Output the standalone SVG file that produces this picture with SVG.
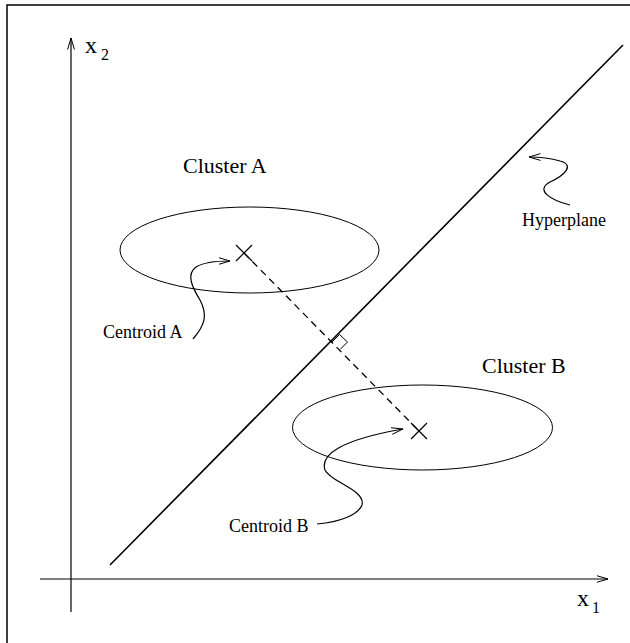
<svg xmlns="http://www.w3.org/2000/svg" width="630" height="643" viewBox="0 0 630 643">
<style>
.ln{fill:none;stroke:#000;stroke-width:1.2}
.ell{fill:none;stroke:#000;stroke-width:1}
.big{font-family:"Liberation Serif","Times New Roman",serif;font-size:22px;fill:#000}
.sm{font-family:"Liberation Serif","Times New Roman",serif;font-size:18px;fill:#000}
.ax{font-family:"Liberation Serif","Times New Roman",serif;font-size:24px;fill:#000}
.sub{font-family:"Liberation Serif","Times New Roman",serif;font-size:16px;fill:#000}
</style>
<defs>
<marker id="open" viewBox="0 0 12 8" refX="11.5" refY="4" markerWidth="12" markerHeight="8" markerUnits="userSpaceOnUse" orient="auto">
<path d="M0,0.6 L11.5,4 L0,7.4" fill="none" stroke="#000" stroke-width="1"/>
</marker>
</defs>
<rect width="630" height="643" fill="#fff"/>
<path d="M7,643 V5 H630" fill="none" stroke="#000" stroke-width="1.5"/>
<g id="axes">
<line class="ln" x1="71" y1="612" x2="71" y2="38" marker-end="url(#open)"/>
<line class="ln" x1="40" y1="579" x2="608" y2="579" marker-end="url(#open)"/>
<text class="ax" x="85" y="53">x</text><text class="sub" x="101" y="60">2</text>
<text class="ax" x="577" y="606">x</text><text class="sub" x="592" y="613">1</text>
</g>
<g id="hyperplane">
<line x1="110" y1="565" x2="623" y2="45" stroke="#000" stroke-width="1.6"/>
<text class="sm" x="522" y="226">Hyperplane</text>
</g>
<g id="clusterA">
<ellipse class="ell" cx="249.5" cy="250" rx="129.5" ry="43"/>
<path class="ln" d="M236,245 L252,261 M236,261 L252,245"/>
<text class="big" x="183" y="173">Cluster A</text>
<text class="sm" x="103" y="338">Centroid A</text>
</g>
<g id="clusterB">
<ellipse class="ell" cx="422.5" cy="427.5" rx="130" ry="42.5"/>
<path class="ln" d="M411,423 L427,439 M411,439 L427,423"/>
<text class="big" x="482" y="373">Cluster B</text>
<text class="sm" x="229" y="532">Centroid B</text>
</g>
<g id="connectors">
<line x1="244" y1="253" x2="419" y2="431" stroke="#000" stroke-width="1.3" stroke-dasharray="7,5"/>
<path d="M332,342 L339.5,334.5 L347.5,342 L340,349.5" fill="none" stroke="#000" stroke-width="1"/>
<path class="ln" d="M193,339 C205,325 208,315 200,300 C192,287 186,274 196,267 C204,262 216,261 230,261" marker-end="url(#open)" stroke-width="1"/>
<path class="ln" d="M317,524 C340,522 358,515 362,505 C366,490 330,482 325,470 C320,455 340,440 403,429" marker-end="url(#open)" stroke-width="1"/>
<path class="ln" d="M570,205 C550,200 535,190 550,182 C565,175 575,165 560,161 C550,158 540,157 529,157" marker-end="url(#open)" stroke-width="1"/>
</g>
</svg>
